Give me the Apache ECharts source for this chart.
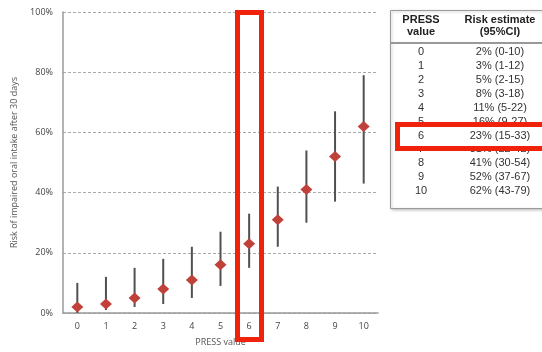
<!DOCTYPE html>
<html>
<head>
<meta charset="utf-8">
<script src="https://cdn.jsdelivr.net/npm/echarts@6/dist/echarts.min.js"></script>
<style>
    html, body { margin: 0; padding: 0; background: #fff; }
    #chart { width: 542px; height: 352px; }
</style>
</head>
<body>
<div id="chart"></div>
<script>
/* ------------------------------------ 数据 ------------------------------------ */
let pressValues = ['0', '1', '2', '3', '4', '5', '6', '7', '8', '9', '10'];
let riskPct = [2, 3, 5, 8, 11, 16, 23, 31, 41, 52, 62];      // 风险估计 %
let ciLow = [0, 1, 2, 3, 5, 9, 15, 22, 30, 37, 43];          // 95%CI 下限
let ciHigh = [10, 12, 15, 18, 22, 27, 33, 42, 54, 67, 79];   // 95%CI 上限
let highlightIndex = 6;                                      // 红框标出的 PRESS 值

/* ------------------------------------ 右侧表格 ------------------------------------ */
let tableFont = '"Liberation Sans", Arial, sans-serif';
let buildTable = function () {
    let rowTop = 52, rowStep = 13.9;
    let col1 = 421, col2 = 500;
    let rows = [];
    let hiText = [];
    pressValues.forEach(function (p, i) {
        let y = rowTop + i * rowStep;
        if (i === highlightIndex) y += 1;
        let label = riskPct[i] + '% (' + ciLow[i] + '-' + ciHigh[i] + ')';
        let items = [
            {type: 'text', x: col1, y: y, style: {text: p, fill: '#333', font: '11px ' + tableFont, align: 'center', verticalAlign: 'middle'}},
            {type: 'text', x: col2, y: y, style: {text: label, fill: '#333', font: '11px ' + tableFont, align: 'center', verticalAlign: 'middle'}}
        ];
        if (i === highlightIndex) {
            items.forEach(function (t) { t.z = 20; });
            hiText = hiText.concat(items);
        } else {
            rows = rows.concat(items);
        }
    });
    let hiY = rowTop + highlightIndex * rowStep + 1;
    return [
        // 表格外框
        {type: 'rect', z: 1, shape: {x: 390.5, y: 10.5, width: 180, height: 198}, style: {fill: '#fff', stroke: '#9a9a9a', lineWidth: 1, shadowBlur: 3, shadowColor: 'rgba(0,0,0,0.25)', shadowOffsetX: 1, shadowOffsetY: 1}},
        // 表头
        {type: 'text', z: 5, x: col1, y: 20, style: {text: 'PRESS', fill: '#222', font: 'bold 11px ' + tableFont, align: 'center', verticalAlign: 'middle'}},
        {type: 'text', z: 5, x: col1, y: 32, style: {text: 'value', fill: '#222', font: 'bold 11px ' + tableFont, align: 'center', verticalAlign: 'middle'}},
        {type: 'text', z: 5, x: col2, y: 20, style: {text: 'Risk estimate', fill: '#222', font: 'bold 11px ' + tableFont, align: 'center', verticalAlign: 'middle'}},
        {type: 'text', z: 5, x: col2, y: 32, style: {text: '(95%CI)', fill: '#222', font: 'bold 11px ' + tableFont, align: 'center', verticalAlign: 'middle'}},
        {type: 'line', z: 5, shape: {x1: 391, y1: 43, x2: 560, y2: 43}, style: {stroke: '#777', lineWidth: 1.5}}
    ].concat(rows.map(function (t) { t.z = 5; return t; })).concat([
        // 表格中的红框
        {type: 'rect', z: 15, shape: {x: 397.5, y: hiY - 12, width: 170, height: 24}, style: {fill: '#fff', stroke: '#f0230a', lineWidth: 5}}
    ]).concat(hiText);
};

/* ------------------------------------ 图表配置 ------------------------------------ */
let axisFont = '"Open Sans", "Liberation Sans", sans-serif';
let option = {
    animation: false,
    backgroundColor: '#fff',
    grid: {
        left: 63,
        right: 164,
        top: 12,
        bottom: 39
    },
    xAxis: {
        type: 'category',
        data: pressValues,
        boundaryGap: true,
        name: 'PRESS value',
        nameLocation: 'middle',
        nameGap: 25,
        nameTextStyle: {color: '#555', fontSize: 9, fontFamily: axisFont},
        axisLine: {lineStyle: {color: '#999', width: 1.5}},
        axisTick: {length: 3, lineStyle: {color: '#999'}},
        axisLabel: {color: '#444', fontSize: 9, margin: 9, fontFamily: axisFont}
    },
    yAxis: {
        type: 'value',
        min: 0,
        max: 100,
        interval: 20,
        name: 'Risk of impaired oral intake after 30 days',
        nameLocation: 'middle',
        nameGap: 39,
        nameTextStyle: {color: '#555', fontSize: 9, fontFamily: axisFont},
        axisLine: {show: true, lineStyle: {color: '#999', width: 1.5}},
        axisTick: {show: false},
        axisLabel: {color: '#444', fontSize: 9, margin: 10, fontFamily: axisFont, formatter: '{value}%'},
        splitLine: {lineStyle: {color: '#aaa', type: [3, 2], width: 1}}
    },
    series: [
        {
            // 95%CI 竖线
            type: 'custom',
            z: 2,
            encode: {x: 0, y: [1, 2]},
            renderItem: function (params, api) {
                let lo = api.coord([api.value(0), api.value(1)]);
                let hi = api.coord([api.value(0), api.value(2)]);
                return {
                    type: 'line',
                    shape: {x1: lo[0], y1: lo[1], x2: hi[0], y2: hi[1]},
                    style: {stroke: '#505050', lineWidth: 2}
                };
            },
            data: pressValues.map(function (p, i) { return [i, ciLow[i], ciHigh[i]]; })
        },
        {
            // 风险估计点
            type: 'scatter',
            z: 3,
            symbol: 'diamond',
            symbolSize: [12, 11],
            itemStyle: {color: '#bf4139', opacity: 1},
            data: riskPct.map(function (v, i) { return [i, v]; })
        }
    ],
    graphic: [
        // 图中 PRESS = 6 的红框
        {type: 'rect', z: 100, shape: {x: 237.5, y: 12.5, width: 24, height: 327}, style: {fill: 'transparent', stroke: '#f0230a', lineWidth: 5}}
    ].concat(buildTable())
};

let myChart = echarts.init(document.querySelector('#chart'));
myChart.setOption(option);
</script>
</body>
</html>
